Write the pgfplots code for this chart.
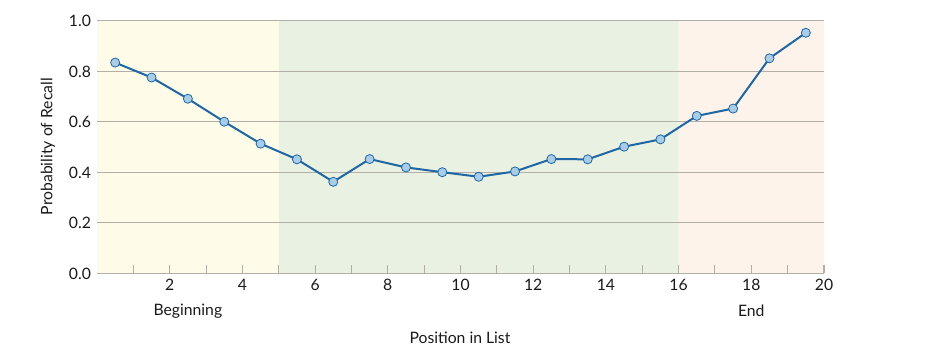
\documentclass[border=0pt]{standalone}
\usepackage{pgfplots}
\pgfplotsset{compat=1.18}
\usepackage{fontspec}
\setmainfont{Lato}
\definecolor{bgY}{HTML}{FEFCE9}
\definecolor{bgG}{HTML}{E9F1E3}
\definecolor{bgP}{HTML}{FDF3EB}
\definecolor{gridc}{HTML}{B3AEA8}
\definecolor{txt}{HTML}{1A1A1A}
\definecolor{lineb}{HTML}{1F66A3}
\definecolor{markf}{HTML}{A9CDE8}
\begin{document}
\begin{tikzpicture}
\begin{axis}[
  set layers,
  scale only axis,
  width=545.25pt, height=189.4pt,
  at={(72.75pt,63.4pt)}, anchor=south west,
  xmin=0, xmax=20, ymin=0, ymax=1,
  axis x line*=bottom, axis y line*=left,
  y axis line style={draw=none},
  x axis line style={draw=gridc, line width=1pt, -},
  xtick={2,4,...,20}, minor xtick={1,3,...,19},
  tick align=inside,
  major tick length=6pt, minor tick length=6pt,
  xtick style={draw=gridc, line width=0.8pt},
  ytick={0,0.2,0.4,0.6,0.8,1},
  ytick style={draw=none},
  ymajorgrids,
  grid style={draw=gridc, line width=0.8pt},
  tick label style={font=\fontsize{11.8}{13}\selectfont, text=txt},
  xticklabel style={yshift=-1pt},
  yticklabel style={xshift=-1pt, /pgf/number format/.cd, fixed, fixed zerofill, precision=1},
  /pgf/number format/assume math mode=true,
  clip=false,
]
\addplot[draw=none, fill=bgY, on layer=axis background] coordinates {(0,0) (5,0) (5,1) (0,1) (0,0)};
\addplot[draw=none, fill=bgG, on layer=axis background] coordinates {(5,0) (16,0) (16,1) (5,1) (5,0)};
\addplot[draw=none, fill=bgP, on layer=axis background] coordinates {(16,0) (20,0) (20,1) (16,1) (16,0)};
\addplot[lineb, line width=1.5pt, mark=*, mark size=3.4pt,
  mark options={fill=markf, draw=lineb, line width=0.6pt}]
  coordinates {
  (0.5,0.835) (1.5,0.776) (2.5,0.692) (3.5,0.601) (4.5,0.514)
  (5.5,0.452) (6.5,0.363) (7.5,0.453) (8.5,0.420) (9.5,0.401)
  (10.5,0.383) (11.5,0.404) (12.5,0.453) (13.5,0.452) (14.5,0.502)
  (15.5,0.531) (16.5,0.624) (17.5,0.653) (18.5,0.852) (19.5,0.953)
  };
\node[text=txt, font=\fontsize{11.8}{13}\selectfont] at (axis cs:2.5,0) [yshift=-28.1pt] {Beginning};
\node[text=txt, font=\fontsize{11.8}{13}\selectfont] at (axis cs:18,0) [yshift=-28.1pt] {End};
\end{axis}
\node[text=txt, font=\fontsize{11.8}{13}\selectfont] at (345pt,15.3pt) {Position in List};
\node[text=txt, font=\fontsize{11.8}{13}\selectfont, rotate=90] at (36pt,158.5pt) {Probability of Recall};
\path (0,0) rectangle (699pt,268.5pt);
\end{tikzpicture}
\end{document}
